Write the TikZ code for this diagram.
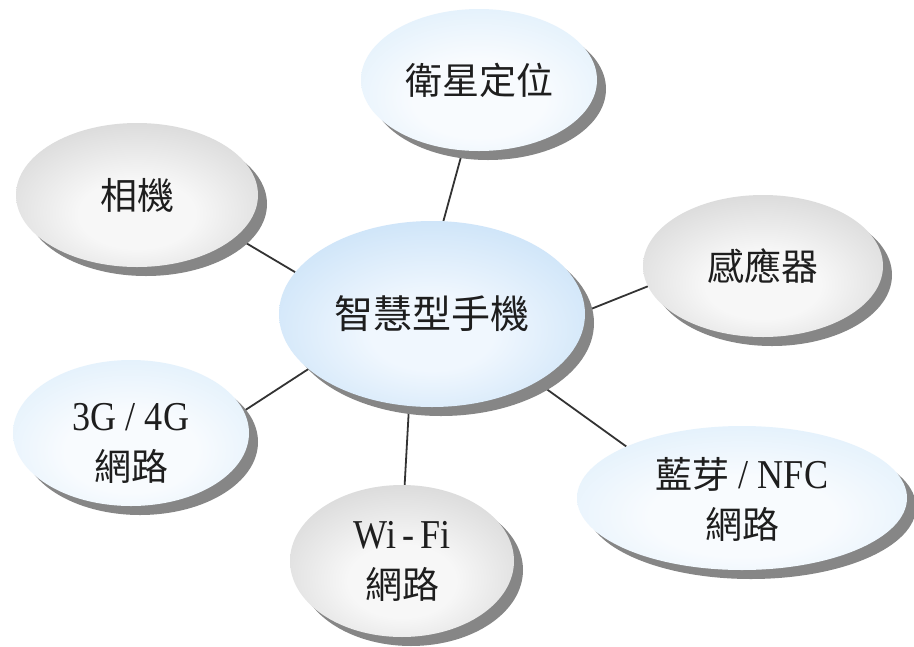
\documentclass[tikz,border=0pt]{standalone}
\usepackage{fontspec}
\setmainfont{Liberation Serif}
\newfontfamily\cjk{Noto Sans CJK TC}
\newfontfamily\lat[FakeStretch=0.88]{Liberation Serif}
\usetikzlibrary{shapes.geometric,shadows}
\definecolor{blueedge}{HTML}{C4DFF5}
\definecolor{bluemid}{HTML}{DDEEFB}
\definecolor{bluecenter}{HTML}{F8FBFE}
\definecolor{cedge}{HTML}{A3CBF0}
\definecolor{cmid}{HTML}{C6E0F7}
\definecolor{ccenter}{HTML}{F0F7FE}
\definecolor{grayedge}{HTML}{ABABAB}
\definecolor{graymid}{HTML}{D2D2D2}
\definecolor{graycenter}{HTML}{F7F7F7}
\definecolor{shadowgray}{HTML}{868686}
\definecolor{linegray}{HTML}{333333}
\definecolor{textcol}{HTML}{1E1E1E}
\pgfdeclareradialshading{bluesh}{\pgfpoint{0bp}{-8bp}}{color(0bp)=(bluecenter); color(14bp)=(bluecenter); color(36bp)=(bluemid); color(50bp)=(blueedge); color(70bp)=(blueedge)}
\pgfdeclareradialshading{centersh}{\pgfpoint{0bp}{-6bp}}{color(0bp)=(ccenter); color(10bp)=(ccenter); color(34bp)=(cmid); color(50bp)=(cedge); color(70bp)=(cedge)}
\pgfdeclareradialshading{graysh}{\pgfpoint{0bp}{-8bp}}{color(0bp)=(graycenter); color(12bp)=(graycenter); color(36bp)=(graymid); color(50bp)=(grayedge); color(70bp)=(grayedge)}
\pgfdeclarelayer{bg}
\pgfsetlayers{bg,main}
\tikzset{
  bub/.style={ellipse, inner sep=0pt, align=center, text=textcol,
    drop shadow={shadow xshift=9pt, shadow yshift=-9pt, fill=shadowgray, opacity=1}},
  bluebub/.style={bub, shading=bluesh},
  centerbub/.style={bub, shading=centersh},
  graybub/.style={bub, shading=graysh},
  conn/.style={draw=linegray, line width=1.8pt},
  cjkt/.style={font=\cjk\fontsize{37}{50}\selectfont},
}
\newcommand{\latt}[1]{{\lat\fontsize{41}{50}\selectfont #1}}
\newcommand{\twoline}[3]{\raisebox{-#1}[0pt][0pt]{\begin{tabular}[c]{@{}c@{}}#2\\#3\end{tabular}}}
\begin{document}
\begin{tikzpicture}[x=1pt,y=-1pt]
\useasboundingbox (0,0) rectangle (914,646);
\node[centerbub, minimum width=306pt, minimum height=186pt, font=\cjk\fontsize{39}{46}\selectfont] (c) at (432,314) {智慧型手機};
\node[bluebub, minimum width=236pt, minimum height=142pt, cjkt] (sat) at (479,80) {衛星定位};
\node[graybub, minimum width=242pt, minimum height=144pt, cjkt] (cam) at (137,195) {相機};
\node[graybub, minimum width=240pt, minimum height=142pt, cjkt] (sens) at (763,266) {感應器};
\node[bluebub, minimum width=236pt, minimum height=146pt, cjkt] (g34) at (131,433) {\twoline{19pt}{\latt{3G / 4G}}{網路}};
\node[graybub, minimum width=224pt, minimum height=152pt, cjkt] (wifi) at (402,561) {\twoline{9pt}{\latt{Wi\kern6pt-\kern6pt Fi}}{網路}};
\node[bluebub, minimum width=330pt, minimum height=144pt, cjkt] (bt) at (742,498) {\twoline{12pt}{藍芽\latt{ / NFC}}{網路}};
\begin{pgfonlayer}{bg}
\fill[white] (0,0) rectangle (914,646);
\draw[conn] (c.83) -- (sat.257);
\draw[conn] (c.163) -- (cam.337);
\draw[conn] (c.1) -- (sens.190);
\draw[conn] (c.204) -- (g34.11);
\draw[conn] (c.256) -- (wifi.88);
\draw[conn] (c.-33) -- (bt.156);
\end{pgfonlayer}
\end{tikzpicture}
\end{document}
